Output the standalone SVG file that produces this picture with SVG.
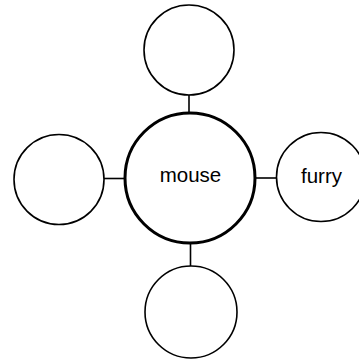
<svg xmlns="http://www.w3.org/2000/svg" width="359" height="361" viewBox="0 0 359 361">
<style>
.c{fill:#fff;stroke:#000;stroke-width:1.6}
.main{fill:#fff;stroke:#000;stroke-width:3}
.l{stroke:#000;stroke-width:1.6;fill:none}
.t{font-family:"Liberation Sans",Arial,sans-serif;font-size:20.5px;fill:#000;text-anchor:middle}
</style>
<rect width="359" height="361" fill="#fff"/>
<g id="connectors">
<line class="l" x1="189" y1="94" x2="189" y2="114"/>
<line class="l" x1="104" y1="178.5" x2="124" y2="178.5"/>
<line class="l" x1="256" y1="178" x2="277" y2="178"/>
<line class="l" x1="190.5" y1="242" x2="190.5" y2="266"/>
</g>
<g id="center"><circle class="main" cx="190" cy="178" r="65"/><text class="t" x="190.5" y="182">mouse</text></g>
<g id="top"><circle class="c" cx="189" cy="50" r="45"/></g>
<g id="left"><circle class="c" cx="59" cy="179.5" r="45"/></g>
<g id="right"><circle class="c" cx="321" cy="177" r="44.5"/><text class="t" x="321.5" y="183">furry</text></g>
<g id="bottom"><circle class="c" cx="191" cy="312" r="46"/></g>
</svg>
